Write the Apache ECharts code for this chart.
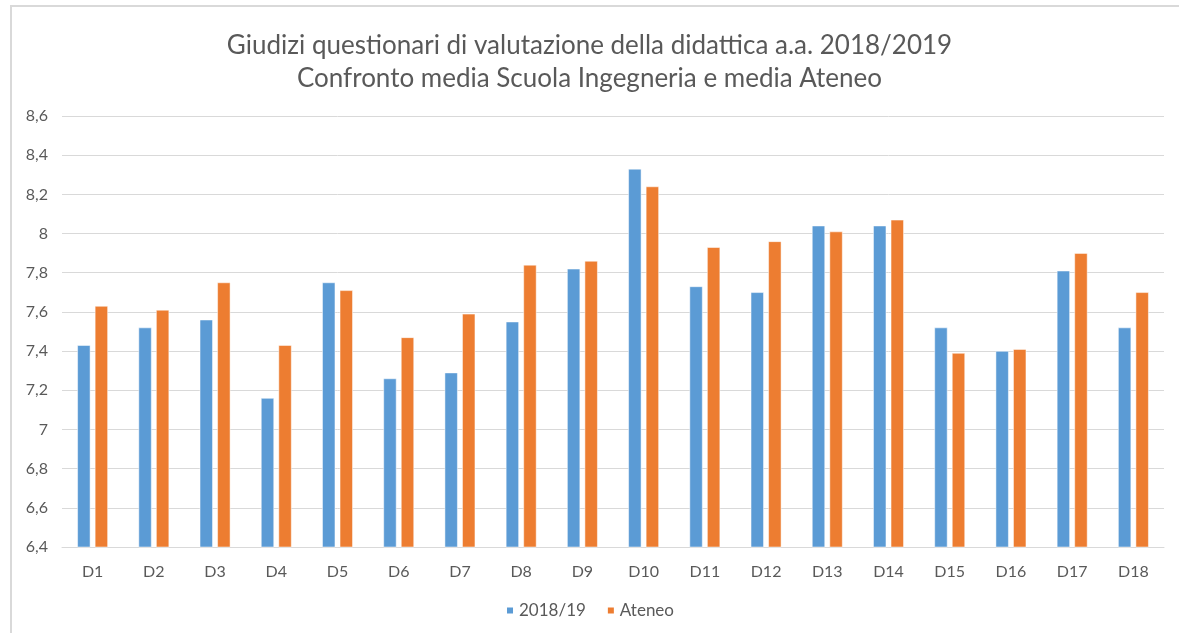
<!DOCTYPE html>
<html>
<head>
<meta charset="utf-8">
<script src="https://cdn.jsdelivr.net/npm/echarts@6/dist/echarts.min.js"></script>
<style>
html,body{margin:0;padding:0;background:#fff;}
#frame{position:absolute;left:10px;top:5px;width:1169px;height:628px;border-left:2px solid #d9d9d9;border-top:2px solid #d9d9d9;box-sizing:border-box;}
#chart{position:absolute;left:0;top:0;width:1179px;height:633px;}
</style>
</head>
<body>
<div id="frame"></div>
<div id="chart"></div>
<script>
const categories = ['D1','D2','D3','D4','D5','D6','D7','D8','D9','D10','D11','D12','D13','D14','D15','D16','D17','D18'];
const scuola = [7.43,7.52,7.56,7.16,7.75,7.26,7.29,7.55,7.82,8.33,7.73,7.70,8.04,8.04,7.52,7.40,7.81,7.52];
const ateneo = [7.63,7.61,7.75,7.43,7.71,7.47,7.59,7.84,7.86,8.24,7.93,7.96,8.01,8.07,7.39,7.41,7.90,7.70];
const seriesNames = ['2018/19','Ateneo'];
const titleLines = ['Giudizi questionari di valutazione della didattica a.a. 2018/2019','Confronto media Scuola Ingegneria e media Ateneo'];

const chart = echarts.init(document.getElementById('chart'));
const font = 'Lato, "Open Sans", sans-serif';
chart.setOption({
  animation:false,
  backgroundColor:'transparent',
  title:{
    text: titleLines.join('\n'),
    left:'center', top:24,
    textStyle:{fontFamily:font,fontSize:26,fontWeight:'normal',color:'#595959',lineHeight:33}
  },
  legend:{
    data:seriesNames,
    bottom:9, left:'center',
    itemWidth:8,itemHeight:8,itemGap:20,icon:'rect',
    textStyle:{fontFamily:font,fontSize:17,color:'#595959'}
  },
  grid:{left:62,right:15,top:116,bottom:86},
  xAxis:{
    type:'category',data:categories,
    axisLine:{lineStyle:{color:'#d9d9d9'}},
    axisTick:{show:false},
    axisLabel:{fontFamily:font,fontSize:16,color:'#595959',margin:17}
  },
  yAxis:{
    type:'value',min:6.4,max:8.6,interval:0.2,
    axisLine:{show:false},axisTick:{show:false},
    splitLine:{lineStyle:{color:'#d9d9d9',width:1}},
    axisLabel:{fontFamily:font,fontSize:16,color:'#595959',margin:14,
      formatter:v=>String(Math.round(v*10)/10).replace('.',',')}
  },
  series:[
    {name:seriesNames[0],type:'bar',data:scuola,barWidth:13,barGap:'35%',
     itemStyle:{color:'#5B9BD5',borderColor:'#ffffff',borderWidth:0.5}},
    {name:seriesNames[1],type:'bar',data:ateneo,barWidth:13,
     itemStyle:{color:'#ED7D31',borderColor:'#ffffff',borderWidth:0.5}}
  ]
});
</script>
</body>
</html>
